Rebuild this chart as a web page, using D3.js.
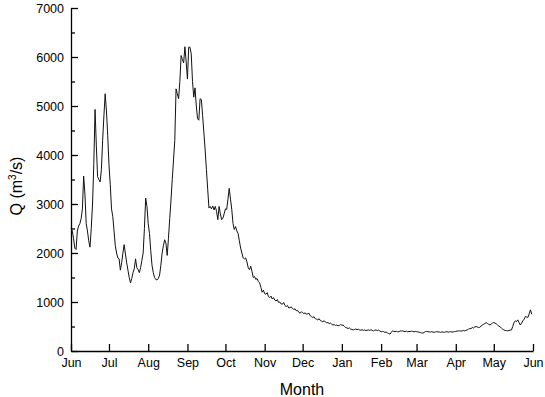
<!DOCTYPE html>
<html>
<head>
<meta charset="utf-8">
<script src="https://cdn.jsdelivr.net/npm/d3@7"></script>
<style>
body { margin: 0; background: #fff; }
text { font-family: "Liberation Sans", Arial, sans-serif; fill: #000; }
.axis path, .axis line { stroke: #000; stroke-width: 1.3; }
.line { fill: none; stroke: #111; stroke-width: 1; }
</style>
</head>
<body>
<div id="chart"></div>
<script>
// daily discharge, 1 Jun to 31 May (m3/s)
var startDay = Date.UTC(2001, 5, 1);
var discharge = [
	2500,2450,2300,2100,2070,2450,2550,2600,2700,2900,
	3570,3200,2600,2450,2250,2120,2500,3000,3800,4930,
	4200,3560,3500,3450,3700,4300,4800,5250,4900,4400,
	3800,3400,2900,2750,2450,2150,2000,1900,1880,1650,
	1800,2000,2170,1980,1800,1650,1500,1390,1480,1600,
	1680,1880,1700,1660,1600,1700,1850,2000,2500,3120,
	2950,2600,2400,2050,1750,1600,1500,1460,1450,1480,
	1550,1750,2000,2150,2270,2200,1950,2300,2700,3080,
	3500,3900,4300,5350,5250,5150,5500,6030,5950,5880,
	6210,5900,5550,6200,6200,6060,5500,5180,5370,5000,
	4740,4710,5150,5130,4800,4450,4100,3700,3300,2920,
	2950,2900,2960,2880,2950,2850,2680,2950,2800,2680,
	2710,2800,2900,2890,3100,3320,3100,2890,2600,2480,
	2540,2450,2400,2250,2100,2000,1900,1880,1900,1820,
	1700,1660,1730,1620,1500,1520,1460,1480,1420,1390,
	1300,1200,1240,1170,1160,1190,1110,1090,1120,1060,
	1090,1040,1020,1050,990,1000,960,955,990,930,
	905,930,880,885,900,865,850,860,820,830,
	790,770,800,785,760,780,750,760,770,720,
	700,685,700,660,650,635,660,620,610,595,
	620,590,575,580,560,570,545,530,540,520,
	530,515,520,540,525,530,500,480,470,460,
	470,445,440,430,440,450,435,445,430,425,
	435,420,430,415,425,430,420,435,420,410,
	425,430,415,430,410,390,400,395,380,385,
	370,355,345,380,412,400,395,405,390,395,
	405,410,412,400,395,405,390,400,395,405,
	400,390,400,395,390,385,375,370,365,380,
	395,400,395,390,385,395,385,380,390,395,
	385,390,380,390,385,380,390,395,385,390,
	395,385,390,395,400,405,410,412,405,410,
	420,412,420,430,445,460,455,480,470,490,
	500,490,480,485,510,530,545,560,580,560,
	545,530,550,570,580,570,555,530,510,490,
	470,445,430,420,415,412,420,425,430,500,
	580,615,600,635,580,530,570,615,650,705,
	695,685,760,840,750
];
var yMajor = [0, 1000, 2000, 3000, 4000, 5000, 6000, 7000];
var yMinor = [500, 1500, 2500, 3500, 4500, 5500, 6500];
var xLabel = "Month";

var width = 545, height = 397;

var svg = d3.select("#chart").append("svg")
	.attr("width", width)
	.attr("height", height);

var x = d3.scaleUtc()
	.domain([new Date(startDay), new Date(Date.UTC(2002, 5, 1))])
	.range([71, 533]);

var y = d3.scaleLinear()
	.domain([0, 7000])
	.range([351, 8]);

var series = discharge.map(function(q, i){
	return { date: new Date(startDay + i * 86400000), q: q };
});

// minor ticks first, under the main axis
svg.append("g")
	.attr("class", "axis")
	.attr("transform", "translate(71,0)")
	.call(d3.axisLeft(y).tickValues(yMinor).tickSizeInner(-4).tickSizeOuter(0).tickFormat(""))
	.select(".domain").remove();

svg.append("g")
	.attr("class", "axis")
	.attr("transform", "translate(71,0)")
	.call(d3.axisLeft(y).tickValues(yMajor).tickFormat(d3.format("d"))
		.tickSizeInner(-7).tickSizeOuter(0).tickPadding(7))
	.selectAll("text").style("font-size", "12.5px");

svg.append("g")
	.attr("class", "axis")
	.attr("transform", "translate(0,351)")
	.call(d3.axisBottom(x).ticks(d3.utcMonth.every(1)).tickFormat(d3.utcFormat("%b"))
		.tickSizeInner(-7).tickSizeOuter(0).tickPadding(7))
	.selectAll("text").style("font-size", "12.5px");

var line = d3.line()
	.x(function(d){ return x(d.date); })
	.y(function(d){ return y(d.q); });

svg.append("path")
	.datum(series)
	.attr("class", "line")
	.attr("d", line);

// axis titles
svg.append("text")
	.attr("x", 302)
	.attr("y", 395)
	.attr("text-anchor", "middle")
	.style("font-size", "16px")
	.text(xLabel);

var yTitle = svg.append("text")
	.attr("transform", "translate(22,186) rotate(-90)")
	.attr("text-anchor", "middle")
	.style("font-size", "16px");
yTitle.append("tspan").text("Q (m");
yTitle.append("tspan").attr("dy", -6).style("font-size", "10px").text("3");
yTitle.append("tspan").attr("dy", 6).text("/s)");
</script>
</body>
</html>
